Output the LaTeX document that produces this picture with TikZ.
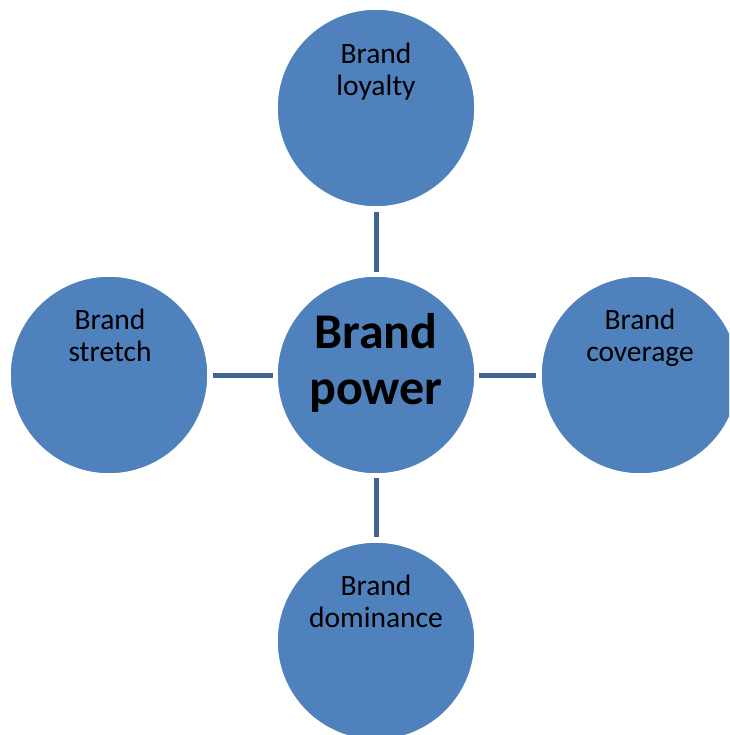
\documentclass[tikz,border=0pt]{standalone}
\usepackage{fontspec}
\setmainfont{Carlito}
\definecolor{bubble}{RGB}{79,129,189}
\definecolor{link}{RGB}{62,100,150}
\begin{document}
\begin{tikzpicture}[x=1pt,y=-1pt,
  bubble/.style={circle, fill=bubble, draw=white, line width=1.5pt, minimum size=198pt, inner sep=0pt},
  small/.style={anchor=base, inner sep=0pt, font=\fontsize{29.5}{32}\selectfont},
  big/.style={anchor=base, inner sep=0pt, font=\fontsize{50}{56}\selectfont\bfseries},
  linkline/.style={draw=link, line width=5pt, shorten <=4pt, shorten >=3pt}]
\useasboundingbox (0,0) rectangle (729,735);
\clip (0,0) rectangle (729,735);
\node[bubble] (c) at (376,375) {};
\node[bubble] (t) at (376,108) {};
\node[bubble] (l) at (109,375) {};
\node[bubble] (r) at (640,375) {};
\node[bubble] (b) at (376,641) {};
\draw[linkline] (t.south) -- (c.north);
\draw[linkline] (l.east) -- (c.west);
\draw[linkline] (r.west) -- (c.east);
\draw[linkline] (b.north) -- (c.south);
\node[big] (c1) at (376,348) {Brand};
\node[big] (c2) at (376,404) {power};
\node[small] (t1) at (376,63.5) {Brand};
\node[small] (t2) at (376,95.5) {loyalty};
\node[small] (l1) at (110,329) {Brand};
\node[small] (l2) at (110,361) {stretch};
\node[small] (r1) at (640,329) {Brand};
\node[small] (r2) at (640,361) {coverage};
\node[small] (b1) at (376,595) {Brand};
\node[small] (b2) at (376,627) {dominance};
\end{tikzpicture}
\end{document}
